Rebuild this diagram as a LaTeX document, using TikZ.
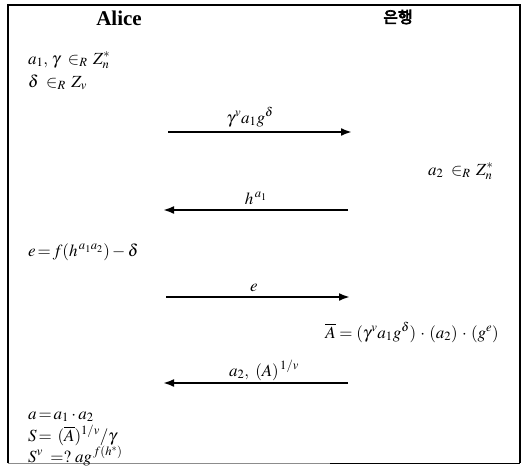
\documentclass[tikz,border=0pt]{standalone}
\usepackage{mathptmx}
\usepackage{fontspec}
\setmainfont{Liberation Serif}
\newfontfamily\krfont[FakeBold=4]{Noto Sans CJK KR}
\usetikzlibrary{arrows.meta}
\begin{document}
\begin{tikzpicture}[x=1pt,y=-1pt,
  msg/.style={line width=2.8pt,-{Latex[length=11pt,width=8pt]}},
  txt/.style={font=\fontsize{17}{19}\selectfont, inner sep=0pt, anchor=base west},
  rtxt/.style={font=\fontsize{17}{19}\selectfont, inner sep=0pt, anchor=base east},
  lbl/.style={font=\fontsize{17}{19}\selectfont, inner sep=0pt, anchor=base},
  title/.style={inner sep=0pt, anchor=base}]
\useasboundingbox (0,0) rectangle (524,472);
% frame
\draw[line width=1.6pt] (8,463) -- (8,5) -- (520,5) -- (520,463);
\draw[line width=0.9pt, black!45] (8,463) -- (330,463);
\draw[line width=0.9pt] (330,463) -- (520,463);
% titles
\node[title, font=\fontsize{21}{24}\selectfont\bfseries] (alice) at (119,25) {Alice};
\node[title, font=\fontsize{16}{18}\selectfont\krfont] (bank) at (398,23) {은행};
% Alice side
\node[txt] (l1) at (28,64) {$a_1,\,\gamma\;\in_R\, Z^*_n$};
\node[txt] (l2) at (28,87) {$\delta\;\in_R\, Z_v$};
\node[txt] (l3) at (28,256) {$e\!=\!f(h^{\,a_1a_2})-\delta$};
\node[txt] (l4) at (28,419) {$a\!=\!a_1\cdot a_2$};
\node[txt] (l5) at (28,441) {$S\!=\,(\overline{A})^{1/v}/\gamma$};
\node[txt] (l6) at (28,462) {$S^v\;=?\;ag^{\,f(h^*)}$};
% bank side
\node[txt] (r1) at (428,175) {$a_2\;\in_R\, Z^*_n$};
\node[rtxt] (r2) at (499,338) {$\overline{A}=(\gamma^v a_1g^\delta)\,\cdot\,(a_2)\,\cdot\,(g^e)$};
% messages
\coordinate (m1a) at (168,132); \coordinate (m1b) at (352,132);
\coordinate (m2a) at (348,210); \coordinate (m2b) at (163,210);
\coordinate (m3a) at (166,297); \coordinate (m3b) at (350,297);
\coordinate (m4a) at (348,383); \coordinate (m4b) at (163,383);
\draw[msg] (m1a) -- (m1b);
\draw[msg] (m2a) -- (m2b);
\draw[msg] (m3a) -- (m3b);
\draw[msg] (m4a) -- (m4b);
\node[lbl] (k1) at (250,123) {$\gamma^v a_1g^\delta$};
\node[lbl] (k2) at (256,204) {$h^{\,a_1}$};
\node[lbl] (k3) at (254,291) {$e$};
\node[lbl] (k4) at (264,376) {$a_2,\ (A)^{\,1/v}$};
\end{tikzpicture}
\end{document}
